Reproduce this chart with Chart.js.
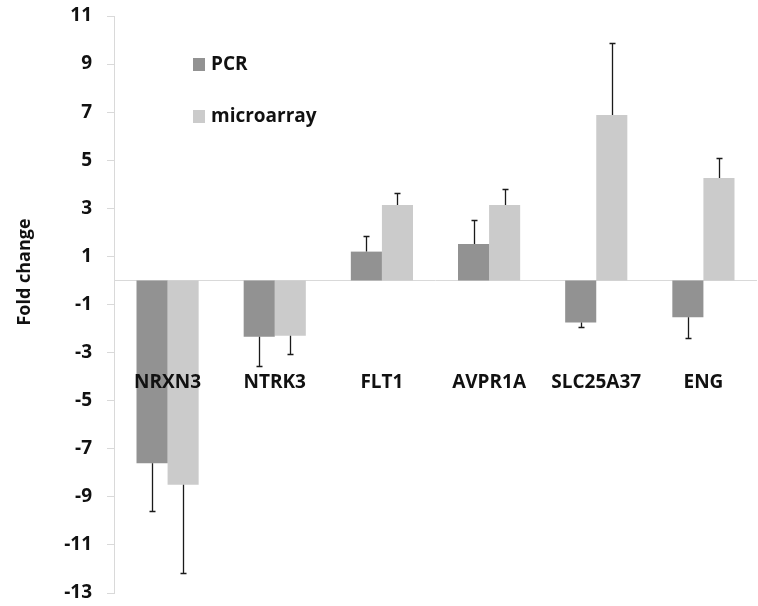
<!DOCTYPE html>
<html lang="en">
<head>
    <meta charset="UTF-8">
    <title>Fold change</title>
    <script src="https://cdn.jsdelivr.net/npm/chart.js"></script>
    <style>
        body {
            margin: 0;
            background: #fff;
        }
        #wrap {
            width: 758px;
            height: 606px;
        }
    </style>
</head>
<body>
    <div id="wrap"><canvas id="foldChart" width="758" height="606"></canvas></div>

    <script>
        const genes = ['NRXN3', 'NTRK3', 'FLT1', 'AVPR1A', 'SLC25A37', 'ENG'];
        const pcrValues = [-7.6, -2.34, 1.2, 1.52, -1.75, -1.53];
        const pcrErrors = [2.0, 1.2, 0.64, 1.0, 0.17, 0.85];
        const microValues = [-8.5, -2.3, 3.14, 3.14, 6.88, 4.26];
        const microErrors = [3.65, 0.75, 0.49, 0.68, 3.0, 0.82];
        const yTicks = { min: -13, max: 11, step: 2 };
        const labelLevel = -4.24;   // where the gene names sit

        const FONT = '"Open Sans", Arial, sans-serif';

        // error bars, zero line, gene names, axis title and legend
        const extras = {
            id: 'extras',
            beforeDatasetsDraw(chart) {
                const ctx = chart.ctx;
                const y = chart.scales.y;
                const area = chart.chartArea;
                const y0 = Math.round(y.getPixelForValue(0)) + 0.5;
                ctx.save();
                ctx.strokeStyle = '#d9d9d9';
                ctx.lineWidth = 1;
                ctx.beginPath();
                ctx.moveTo(area.left, y0);
                ctx.lineTo(area.right, y0);
                ctx.stroke();
                ctx.restore();
            },
            afterDatasetsDraw(chart) {
                const ctx = chart.ctx;
                const y = chart.scales.y;
                const x = chart.scales.x;
                ctx.save();
                ctx.strokeStyle = '#1a1a1a';
                ctx.lineWidth = 1.3;
                chart.data.datasets.forEach((ds, di) => {
                    const meta = chart.getDatasetMeta(di);
                    meta.data.forEach((bar, i) => {
                        const v = ds.data[i];
                        const e = ds.errors[i];
                        const end = v >= 0 ? v + e : v - e;
                        const px = Math.round(bar.x) + 0.5;
                        const pyA = y.getPixelForValue(v);
                        const pyB = Math.round(y.getPixelForValue(end)) + 0.5;
                        ctx.beginPath();
                        ctx.moveTo(px, pyA);
                        ctx.lineTo(px, pyB);
                        ctx.moveTo(px - 3, pyB);
                        ctx.lineTo(px + 3, pyB);
                        ctx.stroke();
                    });
                });

                // gene names inside the plot
                ctx.fillStyle = '#111';
                ctx.font = 'bold 19px ' + FONT;
                ctx.textAlign = 'center';
                ctx.textBaseline = 'middle';
                const ly = y.getPixelForValue(labelLevel);
                genes.forEach((g, i) => {
                    ctx.fillText(g, x.getPixelForValue(i), ly);
                });

                // legend
                ctx.textAlign = 'left';
                chart.data.datasets.forEach((ds, di) => {
                    const top = 58 + di * 52;
                    ctx.fillStyle = ds.backgroundColor;
                    ctx.fillRect(193, top, 12, 13);
                    ctx.fillStyle = '#111';
                    ctx.fillText(ds.label, 211, top + 7);
                });

                // y axis title
                ctx.translate(25, 272);
                ctx.rotate(-Math.PI / 2);
                ctx.textAlign = 'center';
                ctx.font = 'bold 18px ' + FONT;
                ctx.fillText('Fold change', 0, 0);
                ctx.restore();
            }
        };

        new Chart(document.getElementById('foldChart'), {
            type: 'bar',
            data: {
                labels: genes,
                datasets: [
                    {
                        label: 'PCR',
                        data: pcrValues,
                        errors: pcrErrors,
                        backgroundColor: '#929292',
                        borderWidth: 0
                    },
                    {
                        label: 'microarray',
                        data: microValues,
                        errors: microErrors,
                        backgroundColor: '#cbcbcb',
                        borderWidth: 0
                    }
                ]
            },
            options: {
                responsive: false,
                animation: false,
                layout: {
                    padding: { top: 16, bottom: 13, right: 1, left: 0 }
                },
                datasets: {
                    bar: { categoryPercentage: 0.58, barPercentage: 1.0 }
                },
                plugins: {
                    legend: { display: false },
                    tooltip: { enabled: false }
                },
                scales: {
                    x: {
                        display: false
                    },
                    y: {
                        min: yTicks.min,
                        max: yTicks.max,
                        afterFit(scale) {
                            scale.width = 114;
                            scale.paddingTop = 0;
                            scale.paddingBottom = 0;
                        },
                        ticks: {
                            stepSize: yTicks.step,
                            padding: 15,
                            color: '#111',
                            font: { family: FONT, size: 19, weight: 'bold' }
                        },
                        grid: {
                            drawOnChartArea: false,
                            tickLength: 7,
                            color: '#d9d9d9'
                        },
                        border: { color: '#d9d9d9' }
                    }
                }
            },
            plugins: [extras]
        });
    </script>
</body>
</html>
